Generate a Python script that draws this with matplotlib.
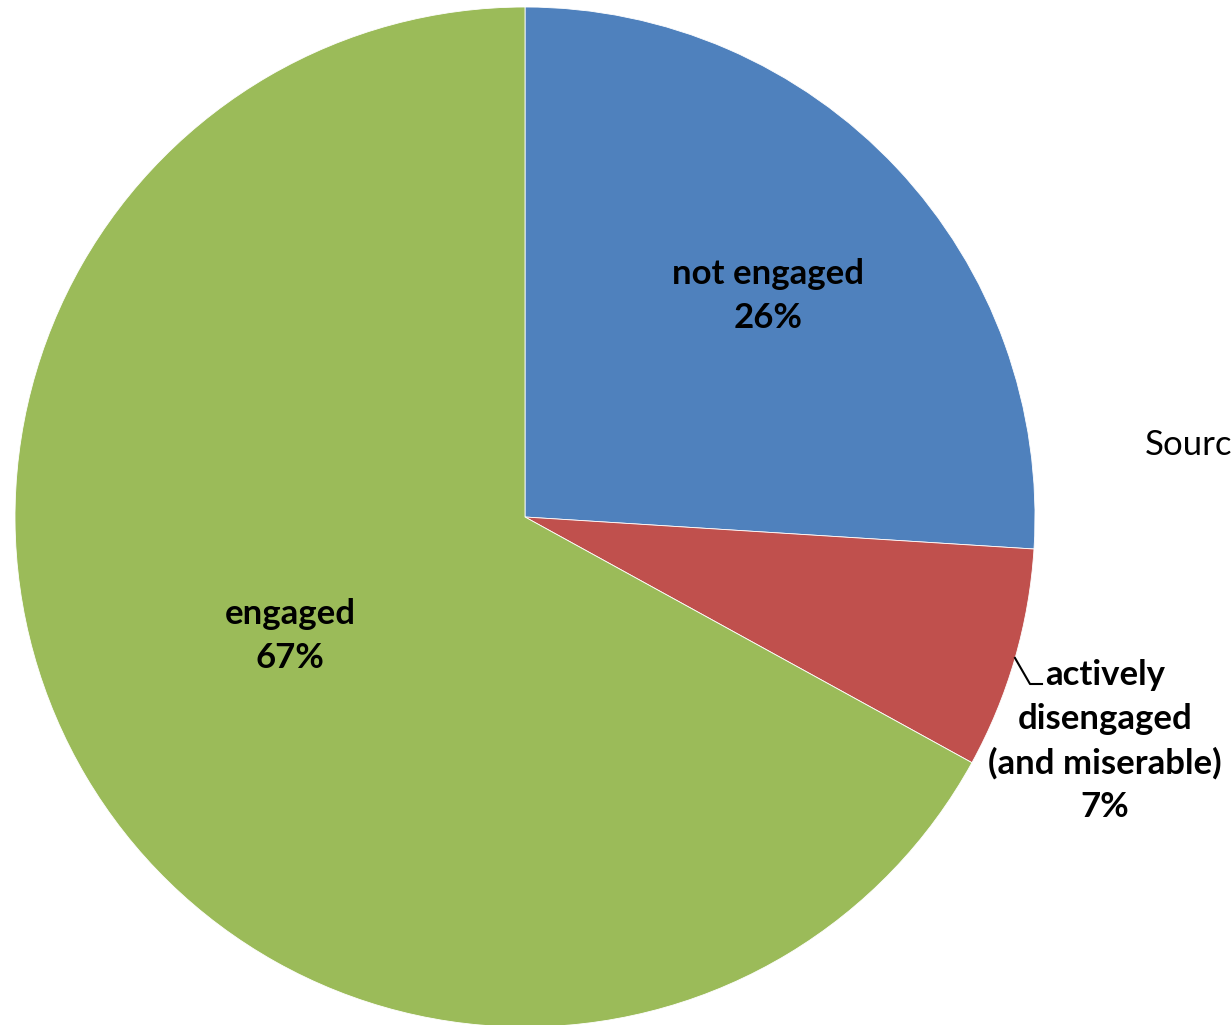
import matplotlib
matplotlib.use('Agg')
import matplotlib.pyplot as plt

# engagement survey split
labels = ["not engaged", "actively\ndisengaged\n(and miserable)", "engaged"]
shares = [26, 7, 67]
colors = ["#4F81BD", "#C0504D", "#9BBB59"]

W, H = 1232, 1025
fig = plt.figure(figsize=(W / 100, H / 100), dpi=100)
ax = fig.add_axes([0, 0, 1, 1])

cx, cy, r = 525, H - 517, 510
ax.pie(shares, colors=colors, startangle=90, counterclock=False,
       center=(cx, cy), radius=r, frame=True,
       wedgeprops=dict(edgecolor='white', linewidth=0.6))
ax.set_xlim(0, W)
ax.set_ylim(0, H)
ax.set_aspect('equal')
ax.axis('off')

font = dict(family=['Lato', 'DejaVu Sans'], fontsize=25, fontweight='bold',
            ha='center', va='center', linespacing=1.45)

ax.text(768, H - 296, "%s\n%d%%" % (labels[0], shares[0]), **font)
ax.text(290, H - 636, "%s\n%d%%" % (labels[2], shares[2]), **font)
ax.text(1105, H - 741, "%s\n%d%%" % (labels[1], shares[1]), **font)

# leader line for the small slice
ax.plot([1015, 1030, 1042], [H - 658, H - 684, H - 684], color='black', lw=1.5)

# source note runs off the right edge
ax.text(1145, H - 445, "Source:", family=['Lato', 'DejaVu Sans'], fontsize=25,
        ha='left', va='center')

fig.savefig("out.png", dpi=100)
plt.close(fig)
